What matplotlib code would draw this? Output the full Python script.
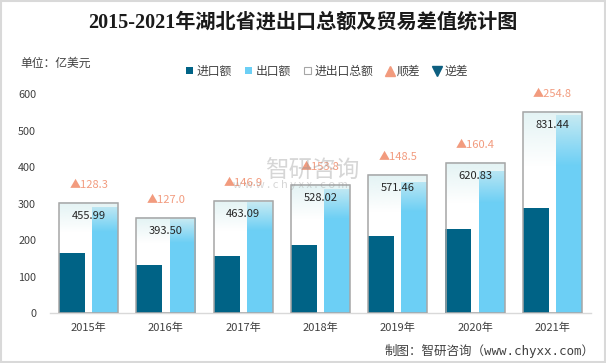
import numpy as np
import matplotlib
matplotlib.use("Agg")
import matplotlib.pyplot as plt
from matplotlib.patches import Patch, Rectangle
from matplotlib.lines import Line2D

plt.rcParams['font.family'] = ['Noto Sans CJK SC', 'DejaVu Sans']

years = ['2015年', '2016年', '2017年', '2018年', '2019年', '2020年', '2021年']
imports = [163.8, 133.3, 158.1, 187.1, 211.5, 230.2, 288.3]
exports = [292.1, 260.2, 305.0, 340.9, 360.0, 390.6, 543.1]
totals = [455.99, 393.50, 463.09, 528.02, 571.46, 620.83, 831.44]
balance = [128.3, 127.0, 146.9, 153.8, 148.5, 160.4, 254.8]
yticks = [0, 100, 200, 300, 400, 500, 600]

C_IMP = '#006386'
C_EXP = '#6CCFF5'
C_SUR = '#F29B7E'
C_DEF = '#0D5F80'
C_EDGE = '#A6A6A6'
C_TXT = '#404040'

fig = plt.figure(figsize=(6.06, 3.63), dpi=100)
ax = fig.add_axes([50/606, 1-313.3/363, 541/606, 219.3/363])
ax2 = ax.twinx()

x = np.arange(len(years))
bw = 0.336
off = 0.216
boxw = 0.763

ax.bar(x - off, imports, width=bw, color=C_IMP, zorder=2)
ax.bar(x + off, exports, width=bw, color=C_EXP, zorder=2)

# gradient overlay for the total boxes
N = 200
f = np.linspace(0, 1, N)  # 0 at top
alpha = np.clip(0.85 * (1 - f / 0.27), 0, 1)
grad = np.zeros((N, 1, 4))
grad[:, 0, 0] = 222/255
grad[:, 0, 1] = 241/255
grad[:, 0, 2] = 242/255
grad[:, 0, 3] = alpha

for i, t in enumerate(totals):
    ax2.imshow(grad, extent=[i - boxw/2, i + boxw/2, 0, t], aspect='auto',
               origin='upper', zorder=3, interpolation='bilinear')
ax2.bar(x, totals, width=boxw, facecolor='none', edgecolor=C_EDGE, linewidth=1.1, zorder=4)

for i, (t, b) in enumerate(zip(totals, balance)):
    ax2.annotate(f'{t:.2f}', (i, t), xytext=(0, -9.5), textcoords='offset points',
                 ha='center', va='center', fontsize=8, color='#262626', zorder=5)
    sym = '▲' if b >= 0 else '▼'
    col = C_SUR if b >= 0 else C_DEF
    ax2.annotate(f'{sym}{abs(b):.1f}', (i, t), xytext=(0, 13), textcoords='offset points',
                 ha='center', va='center', fontsize=8, color=col, zorder=5)

ax.set_xlim(-0.5, len(years) - 0.5)
ax.set_ylim(0, 600)
ax2.set_ylim(0, 600 * 1.507)
ax2.set_xlim(-0.5, len(years) - 0.5)

ax.set_xticks(x)
ax.set_xticklabels(years, fontsize=8, color=C_TXT)
ax.set_yticks(yticks)
ax.set_yticklabels([str(v) for v in yticks], fontsize=7.8, color=C_TXT)
ax.tick_params(axis='x', length=0, pad=7)
ax.tick_params(axis='y', length=0, pad=10)
for s in ['top', 'right', 'left']:
    ax.spines[s].set_visible(False)
ax.spines['bottom'].set_color('#D9D9D9')
ax.spines['bottom'].set_linewidth(1.0)
ax2.axis('off')

# title and texts
fig.text(0.5, 1 - 23/363, '2015-2021年湖北省进出口总额及贸易差值统计图',
         ha='center', va='center', fontsize=14.5, fontweight='bold', color='#1A1A1A',
         family=['Liberation Serif', 'Noto Sans CJK SC'])
fig.text(20/606, 1 - 63/363, '单位：亿美元', ha='left', va='center', fontsize=8.5, color=C_TXT)
fig.text(595/606, 1 - 350.5/363, '制图：智研咨询（www.chyxx.com）', ha='right', va='center',
         fontsize=9, color=C_TXT, family=['DejaVu Sans Mono', 'Noto Sans CJK SC'])

# watermark (faint)
fig.text(265/606, 1 - 171/363, '智研咨询', ha='left', va='center', fontsize=17,
         color='#9A9A9A', alpha=0.4)
fig.text(233/606, 1 - 185/363, 'w w w . c h y x x . c o m', ha='left', va='center',
         fontsize=8, color='#9A9A9A', alpha=0.4)

handles = [
    Patch(facecolor=C_IMP, edgecolor='none'),
    Patch(facecolor=C_EXP, edgecolor='none'),
    Patch(facecolor='white', edgecolor=C_EDGE, linewidth=0.8),
    Line2D([], [], marker='^', ls='none', color=C_SUR, markersize=6.5),
    Line2D([], [], marker='v', ls='none', color=C_DEF, markersize=6.5),
]
labels = ['进口额', '出口额', '进出口总额', '顺差', '逆差']
fig.legend(handles, labels, loc='center', bbox_to_anchor=(327/606, 1 - 71/363), ncol=5,
           frameon=False, fontsize=8.5, handlelength=0.6, handleheight=0.6,
           handletextpad=0.3, columnspacing=1.1, labelcolor=C_TXT)

fig.add_artist(Rectangle((0.001, 0.002), 0.997, 0.996, transform=fig.transFigure,
                         fill=False, edgecolor='#D9D9D9', linewidth=1.5))

fig.savefig('out.png', dpi=100)
